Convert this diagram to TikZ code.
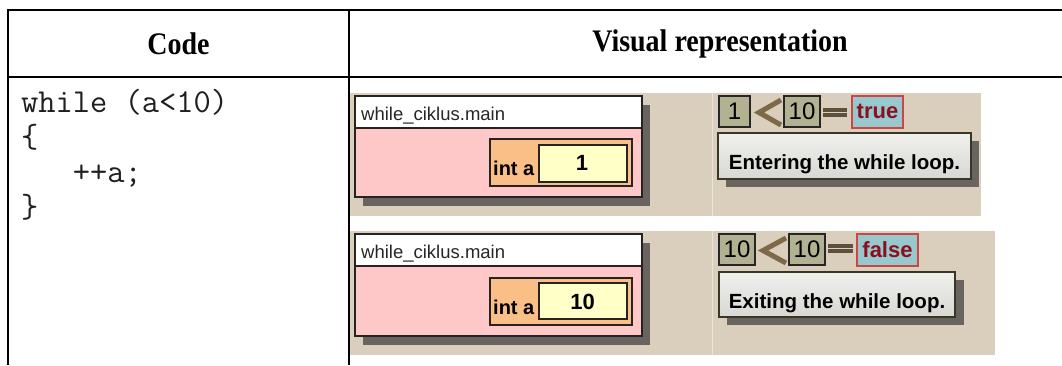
\documentclass[tikz,border=0pt]{standalone}
\usepackage{fontspec}
\setmainfont{Liberation Serif}
\setsansfont{Liberation Sans}
\definecolor{beige}{RGB}{218,206,188}
\definecolor{shadowgray}{RGB}{105,100,95}
\definecolor{framedark}{RGB}{40,35,35}
\definecolor{pinkbody}{RGB}{255,200,200}
\definecolor{orangebox}{RGB}{250,190,135}
\definecolor{yellowbox}{RGB}{255,255,200}
\definecolor{khaki}{RGB}{178,178,146}
\definecolor{chevroncol}{RGB}{125,105,72}
\definecolor{eqbar}{RGB}{95,80,60}
\definecolor{boolfill}{RGB}{150,200,206}
\definecolor{boolline}{RGB}{205,70,70}
\definecolor{booltext}{RGB}{140,15,30}
\definecolor{msgline}{RGB}{55,55,35}
\definecolor{msgtop}{RGB}{240,240,238}
\definecolor{msgbot}{RGB}{215,215,211}
\begin{document}
\begin{tikzpicture}[x=1pt,y=-1pt,
  rule/.style={line width=2pt, black},
  shotbg/.style={fill=beige},
  shadowbox/.style={fill=shadowgray},
  framebox/.style={draw=framedark, line width=1.6pt},
  intbox/.style={fill=orangebox, draw=framedark, line width=1.2pt},
  valbox/.style={fill=yellowbox, draw=framedark, line width=1.2pt},
  numbox/.style={fill=khaki, draw=black!85, line width=1.2pt},
  boolbox/.style={fill=boolfill, draw=boolline, line width=1.2pt},
  msgbox/.style={top color=msgtop, bottom color=msgbot, draw=msgline, line width=1.8pt},
  chevronline/.style={draw=chevroncol, line width=5pt, line join=miter, line cap=butt},
  headtext/.style={inner sep=0pt, font=\fontsize{28}{32}\selectfont\bfseries},
  codetext/.style={inner sep=0pt, anchor=base west, text=black!88, font=\ttfamily\fontsize{33.5}{38}\selectfont},
  frametitle/.style={inner sep=0pt, anchor=base west, text=black!85, font=\sffamily\fontsize{18.5}{22}\selectfont},
  intlabel/.style={inner sep=0pt, anchor=base west, font=\sffamily\bfseries\fontsize{20}{24}\selectfont},
  valtext/.style={inner sep=0pt, font=\sffamily\bfseries\fontsize{22}{26}\selectfont},
  numtext/.style={inner sep=0pt, font=\sffamily\fontsize{24}{28}\selectfont},
  booltxt/.style={inner sep=0pt, text=booltext, font=\sffamily\bfseries\fontsize{22}{26}\selectfont},
  msgtext/.style={inner sep=0pt, anchor=base, font=\sffamily\bfseries\fontsize{20.5}{24}\selectfont}
]
\useasboundingbox (0,0) rectangle (1062,365);
\fill[white] (0,0) rectangle (1062,365);

% screenshot backgrounds
\fill[shotbg] (350,93) rectangle (981,216);
\fill[shotbg] (350,231) rectangle (995,355);
\draw[white, opacity=0.45, line width=1pt] (712,93) -- (712,216);
\draw[white, opacity=0.45, line width=1pt] (712,231) -- (712,355);

% table rules
\draw[rule] (7,10) -- (1062,10);
\draw[rule] (7,77) -- (1062,77);
\draw[rule] (8,9) -- (8,365);
\draw[rule] (348.5,9) -- (348.5,365);

% headers
\node[headtext] (hcode) at (178.5,43.5) {\scalebox{1}[1.12]{Code}};
\node[headtext] (hvis) at (720,43.5) {\scalebox{1}[1.12]{Visual representation}};

% code
\node[codetext] (c1) at (21,112) {while (a<10)};
\node[codetext] (c2) at (21,147) {\{};
\node[codetext] (c3) at (21,182) {\phantom{xxx}++a;};
\node[codetext] (c4) at (21,217) {\}};

% ---------- first screenshot ----------
\fill[shadowbox] (363,105) rectangle (650,206);
\filldraw[fill=white, framebox] (355,96) rectangle (642,128);
\filldraw[fill=pinkbody, framebox] (355,128) rectangle (642,197);
\node[frametitle] (t1) at (361,120) {while\_ciklus.main};
\filldraw[intbox] (490,139) rectangle (632,186);
\filldraw[valbox] (539,145) rectangle (627,182);
\node[intlabel] (ia1) at (493,175) {int a};
\node[valtext] (v1) at (582,163) {1};

\filldraw[numbox] (719,96) rectangle (750,127);
\node[numtext] (n1a) at (734.5,111.5) {1};
\draw[chevronline] (781,100) -- (759,112.5) -- (781,125);
\filldraw[numbox] (784,96) rectangle (820,127);
\node[numtext] (n1b) at (802,111.5) {10};
\fill[eqbar] (823,107.5) rectangle (847,111.8);
\fill[eqbar] (823,113) rectangle (847,117.3);
\filldraw[boolbox] (852,96) rectangle (903,128);
\node[booltxt] (b1) at (877.5,111.5) {true};
\fill[shadowbox] (726,141) rectangle (979,187);
\filldraw[msgbox] (718,133) rectangle (971,179);
\node[msgtext] (m1) at (844.5,169) {Entering the while loop.};

% ---------- second screenshot ----------
\fill[shadowbox] (363,243) rectangle (650,345);
\filldraw[fill=white, framebox] (355,234) rectangle (642,266);
\filldraw[fill=pinkbody, framebox] (355,266) rectangle (642,336);
\node[frametitle] (t2) at (361,258) {while\_ciklus.main};
\filldraw[intbox] (490,278) rectangle (632,325);
\filldraw[valbox] (539,283) rectangle (627,319);
\node[intlabel] (ia2) at (493,314) {int a};
\node[valtext] (v2) at (582.5,301.5) {10};

\filldraw[numbox] (719,234) rectangle (755,265);
\node[numtext] (n2a) at (737,249.5) {10};
\draw[chevronline] (786,238) -- (763,250.5) -- (786,263);
\filldraw[numbox] (789,234) rectangle (825,265);
\node[numtext] (n2b) at (807,249.5) {10};
\fill[eqbar] (828,243.5) rectangle (853,247.8);
\fill[eqbar] (828,249) rectangle (853,253.3);
\filldraw[boolbox] (857,234) rectangle (918,266);
\node[booltxt] (b2) at (887.5,249.5) {false};
\fill[shadowbox] (727,280) rectangle (964,325);
\filldraw[msgbox] (719,272) rectangle (955,317);
\node[msgtext] (m2) at (837,308) {Exiting the while loop.};
\end{tikzpicture}
\end{document}
